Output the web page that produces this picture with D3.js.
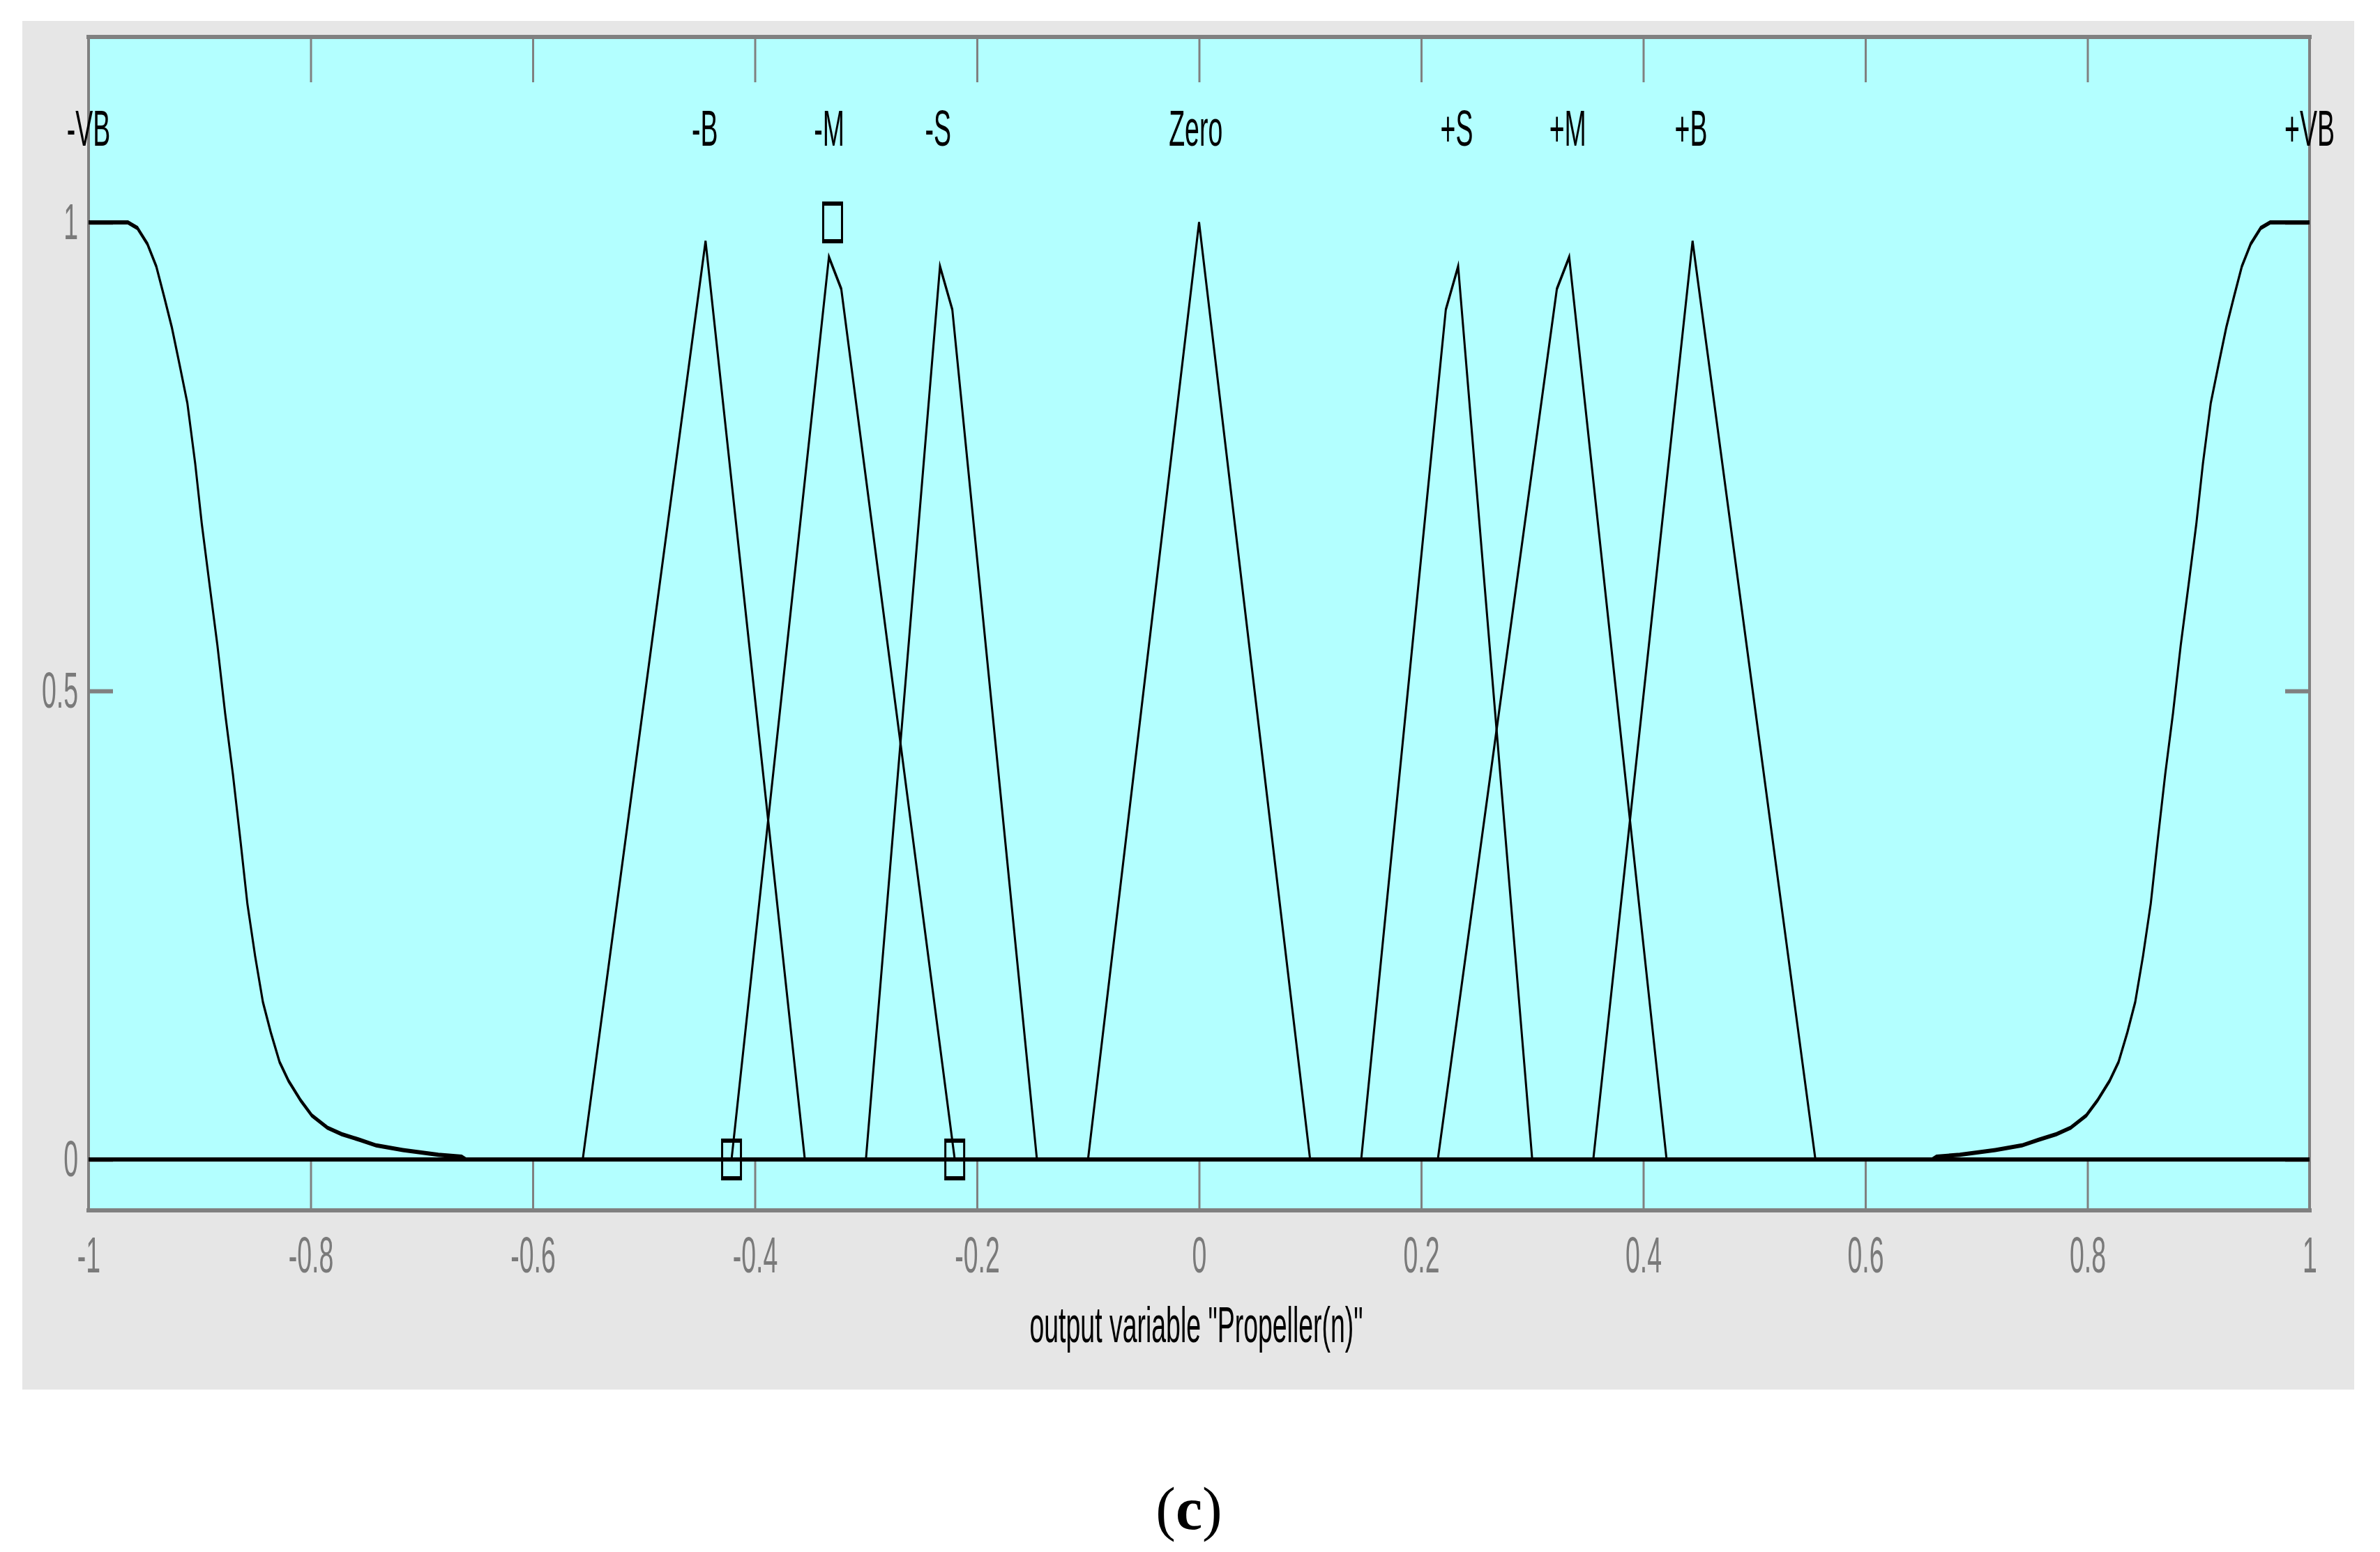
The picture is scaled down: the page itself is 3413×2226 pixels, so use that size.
<!DOCTYPE html>
<html><head><meta charset="utf-8">
<script src="https://cdn.jsdelivr.net/npm/d3@7"></script>
<style>html,body{margin:0;padding:0;background:#fff;} svg{display:block;}</style>
</head><body>
<svg id="chart" width="3413" height="2226"></svg>
<script>
// ---------- data ----------
const xTicks = [-1, -0.8, -0.6, -0.4, -0.2, 0, 0.2, 0.4, 0.6, 0.8, 1];
const xTickLabels = ["-1", "-0.8", "-0.6", "-0.4", "-0.2", "0", "0.2", "0.4", "0.6", "0.8", "1"];
const yTicks = [0, 0.5, 1];
const yTickLabels = ["0", "0.5", "1"];

const mfNames  = ["-VB", "-B", "-M", "-S", "Zero", "+S", "+M", "+B", "+VB"];
const mfLabelX = [-1, -0.445, -0.333, -0.235, -0.003, 0.232, 0.332, 0.443, 1];

const vbNegX = [-1, -0.9645, -0.956, -0.947, -0.939, -0.932, -0.925, -0.918, -0.911, -0.904, -0.898, -0.891, -0.884, -0.877, -0.870, -0.863, -0.857, -0.850, -0.843, -0.836, -0.828, -0.820, -0.809, -0.799, -0.785, -0.772, -0.756, -0.741, -0.717, -0.685, -0.664, -0.66, 1];
const vbNegY = [1, 1, 0.994, 0.977, 0.953, 0.921, 0.888, 0.848, 0.807, 0.743, 0.678, 0.613, 0.549, 0.476, 0.411, 0.338, 0.273, 0.217, 0.168, 0.136, 0.104, 0.084, 0.063, 0.047, 0.034, 0.027, 0.021, 0.015, 0.010, 0.005, 0.003, 0, 0];
const bNegX = [-1, -0.555, -0.4444, -0.355, 1];
const bNegY = [0, 0, 0.98, 0, 0];
const mNegX = [-1, -0.421, -0.3333, -0.3222, -0.22, 1];
const mNegY = [0, 0, 0.963, 0.929, 0, 0];
const sNegX = [-1, -0.3, -0.2333, -0.2222, -0.146, 1];
const sNegY = [0, 0, 0.953, 0.907, 0, 0];
const zeroX = [-1, -0.1, 0, 0.1, 1];
const zeroY = [0, 0, 1, 0, 0];
const sPosX = [-1, 0.146, 0.2222, 0.2333, 0.3, 1];
const sPosY = [0, 0, 0.907, 0.953, 0, 0];
const mPosX = [-1, 0.215, 0.3222, 0.3333, 0.421, 1];
const mPosY = [0, 0, 0.929, 0.963, 0, 0];
const bPosX = [-1, 0.355, 0.4444, 0.555, 1];
const bPosY = [0, 0, 0.98, 0, 0];
const vbPosX = [-1, 0.66, 0.664, 0.685, 0.717, 0.741, 0.756, 0.772, 0.785, 0.799, 0.809, 0.820, 0.828, 0.836, 0.843, 0.850, 0.857, 0.863, 0.870, 0.877, 0.884, 0.891, 0.898, 0.904, 0.911, 0.918, 0.925, 0.932, 0.939, 0.947, 0.956, 0.9645, 1];
const vbPosY = [0, 0, 0.003, 0.005, 0.010, 0.015, 0.021, 0.027, 0.034, 0.047, 0.063, 0.084, 0.104, 0.136, 0.168, 0.217, 0.273, 0.338, 0.411, 0.476, 0.549, 0.613, 0.678, 0.743, 0.807, 0.848, 0.888, 0.921, 0.953, 0.977, 0.994, 1, 1];

const markerX = [-0.421, -0.33, -0.22];
const markerY = [0, 1, 0];

const xAxisTitle = 'output variable "Propeller(n)"';
const captionParts = ["(", "c", ")"];

// ---------- layout ----------
const svg = d3.select("#chart");
const FONT = "'Liberation Sans', Arial, Helvetica, sans-serif";
const SX = 0.52;      // horizontal condensing of the bitmap text
const FS = 72;

const x = d3.scaleLinear().domain([-1, 1]).range([127, 3312]);
const y = d3.scaleLinear().domain([0, 1]).range([1663, 319]);
const yHalf = d3.scaleLinear().domain(y.domain()).range(y.range().map(v => v / 2));

const plotTop = 53, plotBottom = 1736, plotLeft = 127, plotRight = 3312;

// background panel
svg.append("rect").attr("x", 32).attr("y", 30).attr("width", 3344).attr("height", 1963).attr("fill", "#e6e6e6");
// plot area
svg.append("rect").attr("x", plotLeft).attr("y", plotTop).attr("width", plotRight - plotLeft).attr("height", plotBottom - plotTop).attr("fill", "#b3ffff");

const gridColor = "#808080";

// axes (ticks inward)
const gB = svg.append("g").attr("transform", `translate(0,${plotBottom - 3})`)
  .call(d3.axisBottom(x).tickValues(xTicks).tickFormat((d, i) => xTickLabels[i]).tickSizeInner(-67).tickSizeOuter(0));
const gT = svg.append("g").attr("transform", `translate(0,${plotTop + 3})`)
  .call(d3.axisTop(x).tickValues(xTicks).tickFormat("").tickSizeInner(-62).tickSizeOuter(0));
const gL = svg.append("g").attr("transform", `translate(${plotLeft + 2},0)`)
  .call(d3.axisLeft(y).tickValues(yTicks).tickFormat((d, i) => yTickLabels[i]).tickSizeInner(-33).tickSizeOuter(0));
const gR = svg.append("g").attr("transform", `translate(${plotRight - 2},0)`)
  .call(d3.axisRight(y).tickValues(yTicks).tickFormat("").tickSizeInner(-33).tickSizeOuter(0));

[gB, gT, gL, gR].forEach(g => { g.select(".domain").remove(); g.selectAll(".tick line").attr("stroke", gridColor); });
gB.selectAll(".tick line").attr("stroke-width", 3);
gT.selectAll(".tick line").attr("stroke-width", 3);
gL.selectAll(".tick line").attr("stroke-width", 6);
gR.selectAll(".tick line").attr("stroke-width", 6);
gT.selectAll("text").remove();
gR.selectAll("text").remove();

gB.selectAll(".tick text")
  .attr("y", null).attr("dy", null)
  .attr("transform", "translate(0,92) scale(" + SX + ",1)")
  .attr("text-anchor", "middle")
  .attr("font-family", FONT).attr("font-size", FS).attr("fill", "#7a7a7a");
gL.selectAll(".tick text")
  .attr("x", null).attr("dy", null)
  .attr("transform", "translate(-17,23) scale(" + SX + ",1)")
  .attr("text-anchor", "end")
  .attr("font-family", FONT).attr("font-size", FS).attr("fill", "#7a7a7a");

// frame
svg.append("line").attr("x1", 124).attr("x2", 3315).attr("y1", plotTop).attr("y2", plotTop).attr("stroke", gridColor).attr("stroke-width", 6);
svg.append("line").attr("x1", 124).attr("x2", 3315).attr("y1", plotBottom).attr("y2", plotBottom).attr("stroke", gridColor).attr("stroke-width", 6);
svg.append("line").attr("x1", plotLeft).attr("x2", plotLeft).attr("y1", 50).attr("y2", 1739).attr("stroke", gridColor).attr("stroke-width", 4);
svg.append("line").attr("x1", plotRight).attr("x2", plotRight).attr("y1", 50).attr("y2", 1739).attr("stroke", gridColor).attr("stroke-width", 4);

// membership function curves (drawn in a y-doubled space so horizontal strokes are thicker, like the bitmap)
const mfXs = [vbNegX, bNegX, mNegX, sNegX, zeroX, sPosX, mPosX, bPosX, vbPosX];
const mfYs = [vbNegY, bNegY, mNegY, sNegY, zeroY, sPosY, mPosY, bPosY, vbPosY];
const series = mfXs.map((xs, i) => xs.map((v, j) => [v, mfYs[i][j]]));

const gC = svg.append("g").attr("transform", "scale(1,2)");
const line = d3.line().x(d => x(d[0])).y(d => yHalf(d[1]));
gC.selectAll("path.mf").data(series).join("path")
  .attr("class", "mf")
  .attr("d", line)
  .attr("fill", "none").attr("stroke", "#000").attr("stroke-width", 3)
  .attr("stroke-linejoin", "miter");

// parameter markers
gC.selectAll("rect.mk").data(markerX.map((v, i) => [v, markerY[i]])).join("rect")
  .attr("class", "mk")
  .attr("x", d => x(d[0]) - 13.5).attr("y", d => yHalf(d[1]) - 13.5)
  .attr("width", 27).attr("height", 27)
  .attr("fill", "none").attr("stroke", "#000").attr("stroke-width", 3);

// MF labels
svg.selectAll("text.mfl").data(mfNames).join("text")
  .attr("class", "mfl")
  .attr("transform", (d, i) => `translate(${x(mfLabelX[i])},209) scale(${SX},1)`)
  .attr("text-anchor", "middle")
  .attr("font-family", FONT).attr("font-size", FS).attr("fill", "#000")
  .text(d => d);

// axis title
svg.append("text")
  .attr("transform", `translate(${x(0) - 4},1925) scale(${SX},1)`)
  .attr("text-anchor", "middle")
  .attr("font-family", FONT).attr("font-size", FS).attr("fill", "#000")
  .text(xAxisTitle);

// caption
const cap = svg.append("text")
  .attr("x", 1705).attr("y", 2193)
  .attr("text-anchor", "middle")
  .attr("font-family", "'Liberation Serif', 'Times New Roman', serif")
  .attr("font-size", 86).attr("fill", "#000");
cap.append("tspan").text(captionParts[0]);
cap.append("tspan").attr("font-weight", "bold").text(captionParts[1]);
cap.append("tspan").text(captionParts[2]);
</script>
</body></html>
